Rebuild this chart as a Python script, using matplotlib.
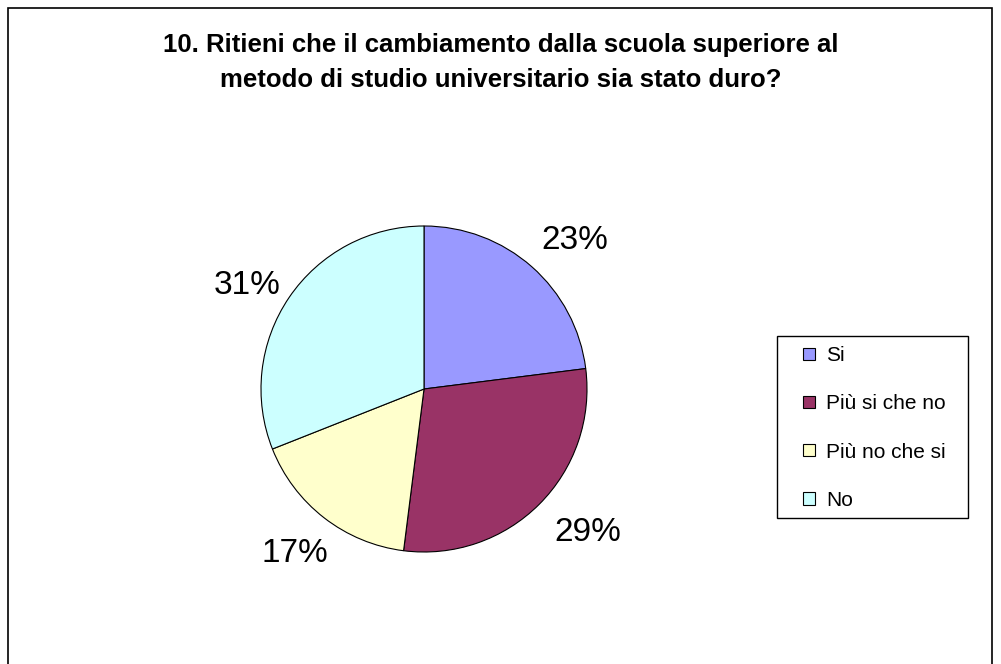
import matplotlib.pyplot as plt
from matplotlib.patches import Rectangle

plt.rcParams["font.family"] = ["Liberation Sans", "DejaVu Sans"]

labels = ["Si", "Più si che no", "Più no che si", "No"]
values = [23, 29, 17, 31]
colors = ["#9999FF", "#993366", "#FFFFCC", "#CCFFFF"]

W, H = 1001, 664
fig = plt.figure(figsize=(W / 100, H / 100), dpi=100)

# outer chart frame
fig.add_artist(Rectangle((8 / W, -0.05), 984 / W, 1.05 - 8 / H, transform=fig.transFigure,
                         fill=False, edgecolor="black", linewidth=1.2))

fig.text(0.5, 1 - 45 / H, "10. Ritieni che il cambiamento dalla scuola superiore al",
         ha="center", va="center", fontsize=18.5, fontweight="bold")
fig.text(0.5, 1 - 80 / H, "metodo di studio universitario sia stato duro?",
         ha="center", va="center", fontsize=18.5, fontweight="bold")

cx, cy, r = 424, 389, 163
ax = fig.add_axes([(cx - r) / W, (H - cy - r) / H, 2 * r / W, 2 * r / H])
wedges, texts, autotexts = ax.pie(
    values, colors=colors, startangle=90, counterclock=False,
    autopct="%1.0f%%", pctdistance=1.29,
    wedgeprops={"edgecolor": "black", "linewidth": 0.8},
    textprops={"fontsize": 24},
)
# nudge labels the way Excel placed them (offsets in radius units)
shifts = [(0.07, -0.055), (0.09, 0.03), (0.0, 0.01), (-0.02, -0.09)]
for t, (dx, dy) in zip(autotexts, shifts):
    x, y = t.get_position()
    t.set_position((x + dx, y + dy))
ax.set_xlim(-1, 1)
ax.set_ylim(-1, 1)
ax.set_aspect("equal")

# legend box drawn separately so the padding matches the original
fig.add_artist(Rectangle((777 / W, 1 - 518 / H), 191 / W, 182 / H, transform=fig.transFigure,
                         fill=False, edgecolor="black", linewidth=1))
leg = fig.legend(wedges, labels, loc="center left", bbox_to_anchor=(793 / W, 1 - 428 / H),
                 frameon=False, fontsize=15, handlelength=0.55, handleheight=0.55,
                 labelspacing=1.4, borderpad=0, handletextpad=0.55)

fig.savefig("out.png", dpi=100)
